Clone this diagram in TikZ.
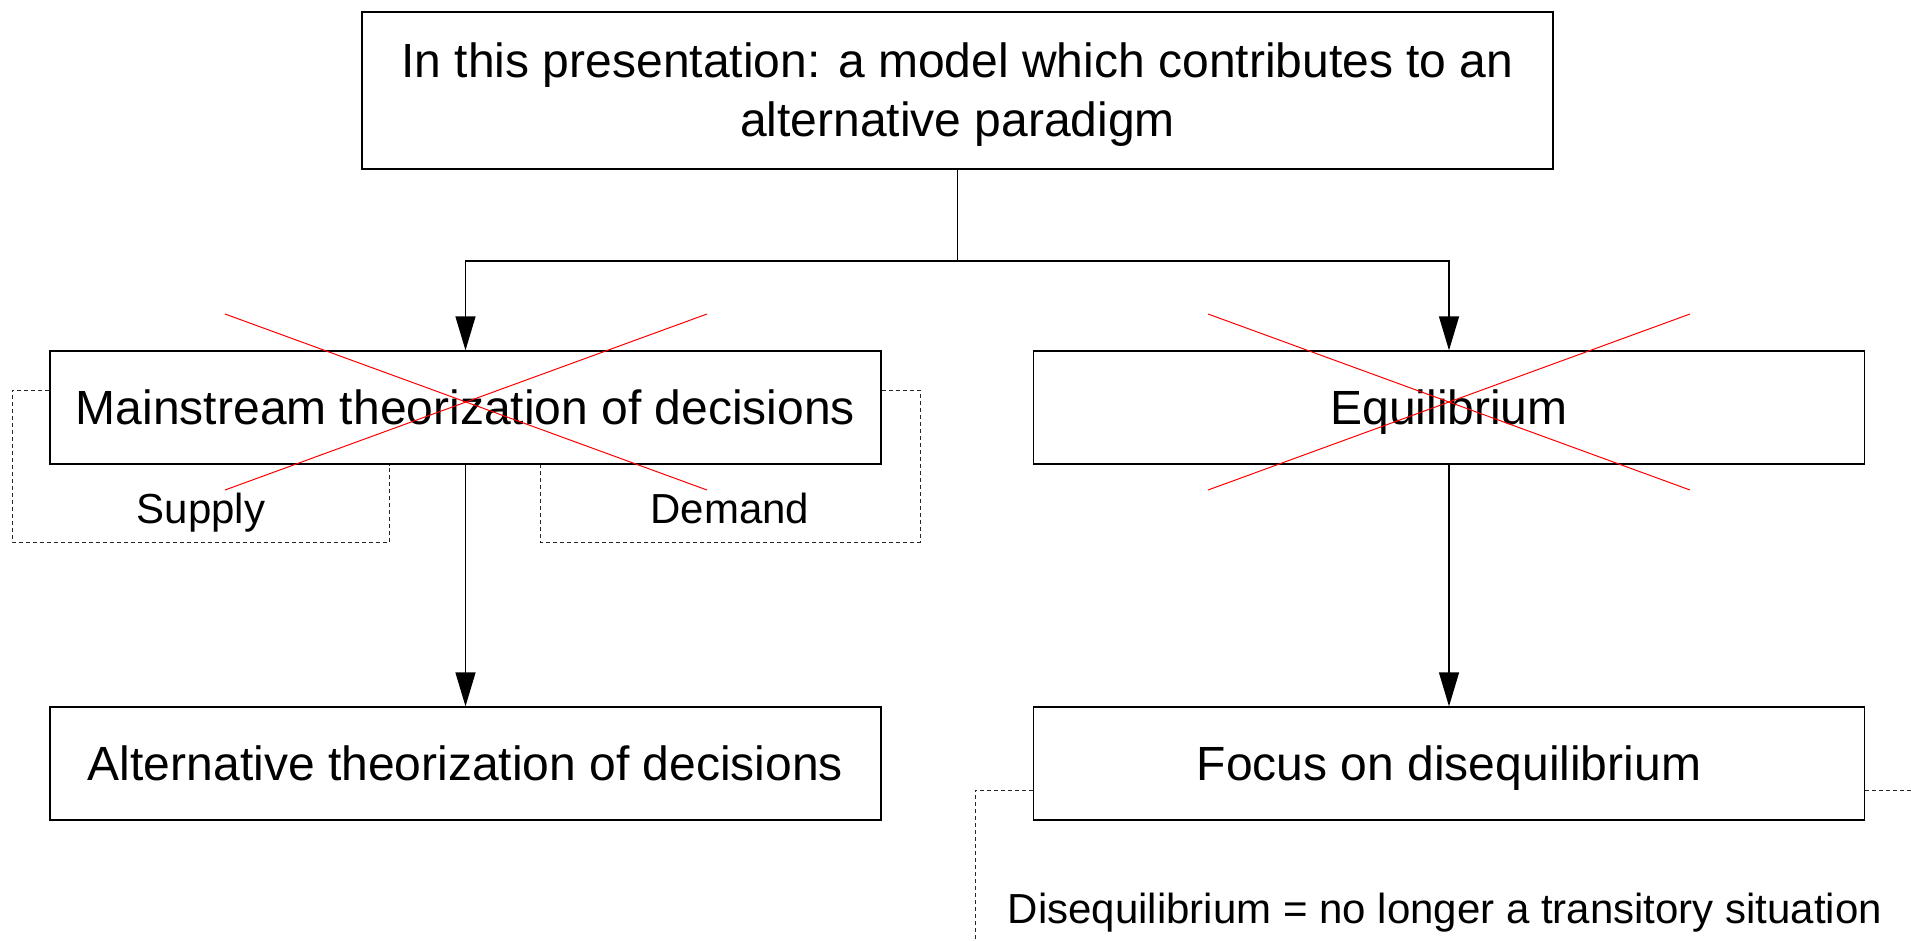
\documentclass[tikz,border=0pt]{standalone}
\usepackage{fontspec}
\setmainfont{Liberation Sans}
\usetikzlibrary{arrows.meta,calc}
\begin{document}
\begin{tikzpicture}[x=1pt,y=-1pt,
  boxbase/.style={draw=black,line width=1.3pt,minimum width=831pt,minimum height=113pt,inner sep=0pt,font=\fontsize{48}{56}\selectfont},
  box/.style={boxbase,text height=34.5pt,text depth=0pt},
  conn/.style={line width=1.3pt,-{Triangle[length=34pt,width=20pt]}},
  plain/.style={line width=1.3pt},
  crossline/.style={red,line width=1pt},
  dashline/.style={line width=1pt,dash pattern=on 4pt off 3pt,black!85},
  lab/.style={font=\fontsize{42}{48}\selectfont,inner sep=0pt}
]
\useasboundingbox (0,0) rectangle (1911,940);

\node[boxbase,minimum width=1191pt,minimum height=157pt,align=center,font=\fontsize{48}{59}\selectfont] (top) at (957.5,90.5)
  {\rule{0pt}{42pt}In this presentation: a model which contributes to an\\alternative paradigm};
\node[box] (main) at (465.5,407.5) {Mainstream theorization of decisions};
\node[box] (eq) at (1449,407.5) {Equilibrium};
\node[box] (alt) at (465.5,763.5) {Alternative theorization of decisions};
\node[box] (focus) at (1449,763.5) {Focus on disequilibrium};

\coordinate (j) at (957.5,261);
\draw[plain] (top.south) -- (j);
\draw[conn] (j) -| (main.north);
\draw[conn] (j) -| (eq.north);
\draw[conn] (main.south) -- (alt.north);
\draw[conn] (eq.south) -- (focus.north);

% dashed brackets
\draw[dashline] ([yshift=17.5pt]main.west) -| (12,542) -| ($(main.south west)+(340,0)$);
\draw[dashline] ([yshift=17.5pt]main.east) -| (920,542) -| ($(main.south west)+(491,0)$);
\draw[dashline] ([yshift=-26.5pt]focus.west) -| (975,940);
\draw[dashline] ([yshift=-26.5pt]focus.east) -- (1911,790);

\node[lab,anchor=base] (supply) at (201,523) {Supply};
\node[lab,anchor=base] (demand) at (730,523) {Demand};
\node[lab,anchor=base] (diseq) at (1445,923) {Disequilibrium = no longer a transitory situation};

% red crosses
\draw[crossline] (225,314) -- (707,490);
\draw[crossline] (707,314) -- (225,490);
\draw[crossline] (1208,314) -- (1690,490);
\draw[crossline] (1690,314) -- (1208,490);
\end{tikzpicture}
\end{document}
